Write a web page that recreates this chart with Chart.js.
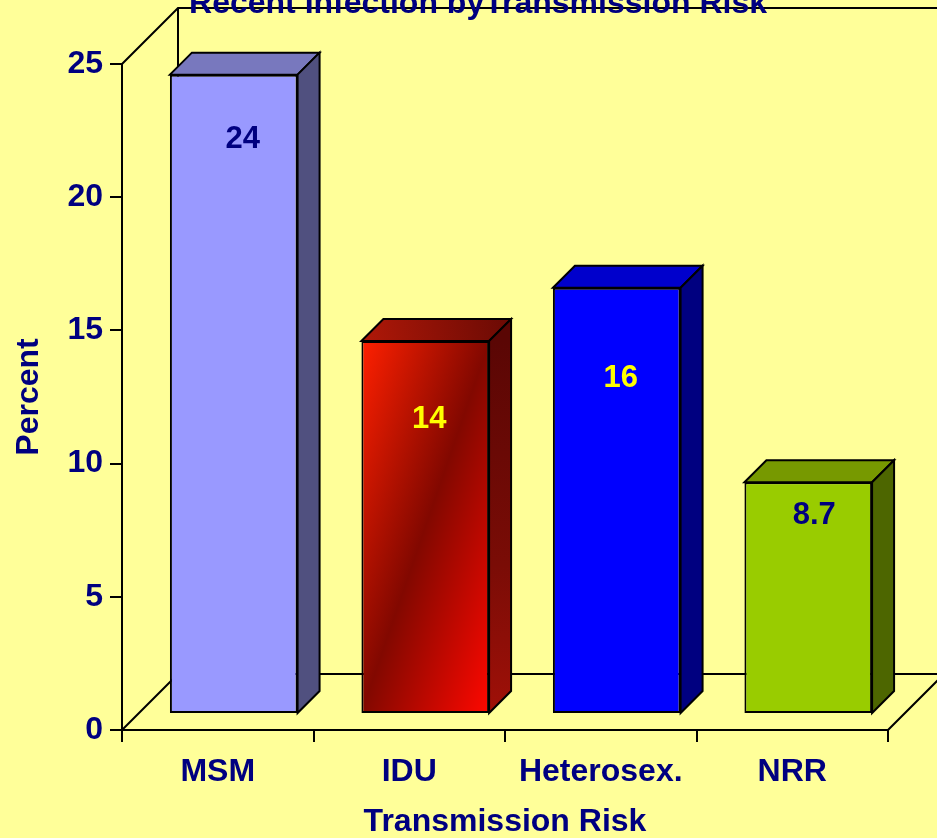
<!DOCTYPE html>
<html>
<head>
<meta charset="utf-8">
<script src="https://cdn.jsdelivr.net/npm/chart.js@4.4.0/dist/chart.umd.min.js"></script>
<style>
  html, body { margin: 0; padding: 0; background: #FFFF99; }
  #wrap { width: 937px; height: 838px; }
</style>
</head>
<body>
<div id="wrap"><canvas id="riskChart" width="937" height="838"></canvas></div>
<script>
const categories = ["MSM", "IDU", "Heterosex.", "NRR"];
const recentPct = [24, 14, 16, 8.7];
const yTicks = [0, 5, 10, 15, 20, 25];

const chartTitle = "Recent Infection byTransmission Risk";
const navy = '#000080';
const font = 'Liberation Sans, Arial, sans-serif';

// colours for the three visible faces of each box
const frontColors = ['#9999FF', 'idu', '#0000FF', '#99CC00'];
const topColors = ['#7878BE', '#8E1408', '#0000CC', '#779900'];
const sideColors = ['#50507F', '#6A0A04', '#000080', '#4D6600'];
const labelColors = [navy, '#FFFF00', '#FFFF00', navy];
// where the value text sits below the top edge of each box (px), and small x nudges
const labelDrop = [65, 78, 91, 33];
const labelNudge = [9, 4, 4, 6];

const WALL = 56;   // depth of the back wall
const SHIFT = 16;  // how far the boxes sit behind the front plane
const DEPTH = 22;  // depth of each box

function iduGradient(chart) {
    const xs = chart.scales.x, ys = chart.scales.y;
    if (!xs || !ys || !chart.chartArea) return '#C00000';
    const cx = xs.getPixelForValue(1);
    const half = xs.width / categories.length / 3;
    const l = cx - half, t = ys.getPixelForValue(recentPct[1]);
    const g = chart.ctx.createLinearGradient(l, t, l + 229, t + 79);
    g.addColorStop(0, '#FF2000');
    g.addColorStop(0.5, '#820800');
    g.addColorStop(1, '#FF0800');
    return g;
}

const box3d = {
    id: 'box3d',
    beforeDatasetsDraw(chart) {
        const {ctx, chartArea: a} = chart;
        ctx.save();
        ctx.strokeStyle = '#000';
        ctx.lineWidth = 2;
        ctx.beginPath();
        ctx.moveTo(a.left, a.top);
        ctx.lineTo(a.left + WALL, a.top - WALL);
        ctx.lineTo(a.right + WALL, a.top - WALL);
        ctx.moveTo(a.left + WALL, a.top - WALL);
        ctx.lineTo(a.left + WALL, a.bottom - WALL);
        ctx.lineTo(a.right + WALL, a.bottom - WALL);
        ctx.moveTo(a.left, a.bottom);
        ctx.lineTo(a.left + WALL, a.bottom - WALL);
        ctx.moveTo(a.right, a.bottom);
        ctx.lineTo(a.right + WALL, a.bottom - WALL);
        ctx.stroke();
        ctx.restore();

        // title, partly cut off by the top edge
        ctx.save();
        ctx.fillStyle = navy;
        ctx.font = 'bold 32px ' + font;
        ctx.textAlign = 'center';
        ctx.textBaseline = 'alphabetic';
        ctx.fillText(chartTitle, 478, 13);
        ctx.restore();

        ctx.save();
        ctx.translate(SHIFT, -SHIFT);
    },
    afterDatasetsDraw(chart) {
        const ctx = chart.ctx;
        ctx.restore();
        const meta = chart.getDatasetMeta(0);
        ctx.save();
        ctx.strokeStyle = '#000';
        ctx.lineWidth = 2;
        ctx.lineJoin = 'miter';
        meta.data.forEach((bar, i) => {
            const p = bar.getProps(['x', 'y', 'base', 'width'], true);
            const l = p.x - p.width / 2 + SHIFT, r = p.x + p.width / 2 + SHIFT;
            const t = p.y - SHIFT, b = p.base - SHIFT;

            let topFill = topColors[i], sideFill = sideColors[i];
            if (frontColors[i] === 'idu') {
                topFill = ctx.createLinearGradient(l, t, r + DEPTH, t - DEPTH);
                topFill.addColorStop(0, '#B01808');
                topFill.addColorStop(1, '#6A0A04');
                sideFill = ctx.createLinearGradient(r, t, r + DEPTH, b);
                sideFill.addColorStop(0, '#5A0604');
                sideFill.addColorStop(0.6, '#7A0C06');
                sideFill.addColorStop(1, '#A01008');
            }

            ctx.beginPath();
            ctx.moveTo(l, t);
            ctx.lineTo(l + DEPTH, t - DEPTH);
            ctx.lineTo(r + DEPTH, t - DEPTH);
            ctx.lineTo(r, t);
            ctx.closePath();
            ctx.fillStyle = topFill;
            ctx.fill();
            ctx.stroke();

            ctx.beginPath();
            ctx.moveTo(r, t);
            ctx.lineTo(r + DEPTH, t - DEPTH);
            ctx.lineTo(r + DEPTH, b - DEPTH);
            ctx.lineTo(r, b);
            ctx.closePath();
            ctx.fillStyle = sideFill;
            ctx.fill();
            ctx.stroke();

            ctx.fillStyle = labelColors[i];
            ctx.font = 'bold 31px ' + font;
            ctx.textAlign = 'center';
            ctx.textBaseline = 'middle';
            ctx.fillText(String(recentPct[i]), p.x + SHIFT + labelNudge[i], t + labelDrop[i]);
        });
        ctx.restore();
    }
};

const ctxRisk = document.getElementById('riskChart').getContext('2d');
const riskChart = new Chart(ctxRisk, {
    type: 'bar',
    data: {
        labels: categories,
        datasets: [{
            data: recentPct,
            backgroundColor: (c) => frontColors[c.dataIndex] === 'idu' ? iduGradient(c.chart) : frontColors[c.dataIndex],
            borderColor: '#000',
            borderWidth: 2,
            borderSkipped: false,
            barPercentage: 2 / 3,
            categoryPercentage: 1,
        }]
    },
    options: {
        responsive: false,
        animation: false,
        layout: {
            padding: { top: 64, right: 49, left: 0, bottom: 0 }
        },
        scales: {
            x: {
                grid: {
                    drawOnChartArea: false,
                    drawTicks: true,
                    tickLength: 12,
                    color: '#000',
                    lineWidth: 2,
                },
                border: { display: true, color: '#000', width: 2 },
                ticks: {
                    color: navy,
                    font: { family: font, size: 32, weight: 'bold' },
                    padding: 11,
                },
                title: {
                    display: true,
                    text: 'Transmission Risk',
                    color: navy,
                    font: { family: font, size: 32, weight: 'bold' },
                    padding: { top: 0, bottom: -3 },
                },
                afterFit: (scale) => { scale.height = 108; },
            },
            y: {
                min: 0,
                max: 25,
                afterBuildTicks: (scale) => { scale.ticks = yTicks.map(v => ({ value: v })); },
                grid: {
                    drawOnChartArea: false,
                    drawTicks: true,
                    tickLength: 12,
                    color: '#000',
                    lineWidth: 2,
                },
                border: { display: true, color: '#000', width: 2 },
                ticks: {
                    color: navy,
                    font: { family: font, size: 32, weight: 'bold' },
                    padding: 7,
                },
                title: {
                    display: true,
                    text: 'Percent',
                    color: navy,
                    font: { family: font, size: 32, weight: 'bold' },
                    padding: { top: 10, bottom: 0 },
                },
                afterFit: (scale) => { scale.width = 122; },
            }
        },
        plugins: {
            legend: { display: false },
            tooltip: { enabled: false },
        }
    },
    plugins: [box3d],
});
</script>
</body>
</html>
